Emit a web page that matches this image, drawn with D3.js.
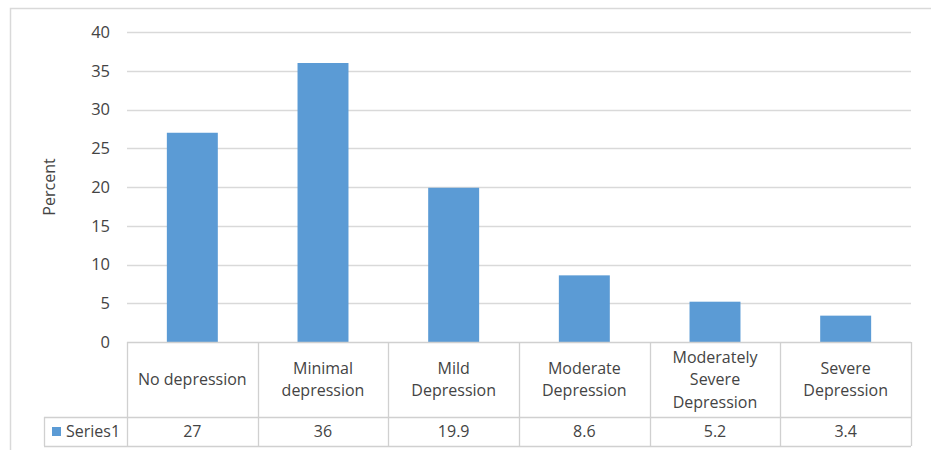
<!DOCTYPE html>
<html><head><meta charset="utf-8">
<script src="https://cdn.jsdelivr.net/npm/d3@7"></script>
<style>body{margin:0;background:#fff;} text{font-family:"Open Sans",sans-serif;fill:#444;}</style>
</head><body>
<svg id="c" width="931" height="450"></svg>
<script>
const categories = [["No depression"],["Minimal","depression"],["Mild","Depression"],["Moderate","Depression"],["Moderately","Severe","Depression"],["Severe","Depression"]];
const values = [27, 36, 19.9, 8.6, 5.2, 3.4];
const valueLabels = ["27","36","19.9","8.6","5.2","3.4"];
const yTicks = [0,5,10,15,20,25,30,35,40];
const seriesName = "Series1";
const yTitle = "Percent";

(function(){
const svg = d3.select("#c");
const pLeft = 127, pRight = 911, pTop = 32, base = 342, catBottom = 417, tableBottom = 446, legendLeft = 44;
const keys = categories.map((c,i)=>i);
const x = d3.scaleBand().domain(keys).range([pLeft, pRight]).padding(0);
const y = d3.scaleLinear().domain([0,40]).range([base, pTop]);
const gridColor = "#d9d9d9";

svg.append("rect").attr("x",10.5).attr("y",8.5).attr("width",940).attr("height",460)
  .attr("fill","none").attr("stroke","#d9d9d9").attr("stroke-width",1.5);

svg.append("g").selectAll("line").data(yTicks.filter(d=>d>0)).join("line")
  .attr("x1",pLeft).attr("x2",pRight).attr("y1",d=>Math.round(y(d))+0.5).attr("y2",d=>Math.round(y(d))+0.5)
  .attr("stroke",gridColor).attr("stroke-width",1.3);

svg.append("g").selectAll("text").data(yTicks).join("text")
  .attr("x",110).attr("y",d=>y(d)).attr("dy","0.35em").attr("text-anchor","end")
  .style("font-size","16.5px").text(d=>d);

svg.append("text").attr("transform",`translate(55,${(pTop+base)/2}) rotate(-90)`)
  .attr("text-anchor","middle").style("font-size","16px").text(yTitle);

const barFrac = 0.39;
svg.append("g").selectAll("rect").data(values).join("rect")
  .attr("x",(d,i)=>x(i)+x.bandwidth()*(1-barFrac)/2).attr("width",x.bandwidth()*barFrac)
  .attr("y",d=>y(d)).attr("height",d=>base-y(d)).attr("fill","#5B9BD5");

const tg = svg.append("g").attr("stroke","#d0d0d0").attr("stroke-width",1.3);
tg.append("line").attr("x1",pLeft).attr("x2",pRight).attr("y1",base+0.5).attr("y2",base+0.5);
tg.append("line").attr("x1",legendLeft).attr("x2",pRight).attr("y1",catBottom+0.5).attr("y2",catBottom+0.5);
tg.append("line").attr("x1",legendLeft).attr("x2",pRight).attr("y1",tableBottom+0.5).attr("y2",tableBottom+0.5);
tg.append("line").attr("x1",legendLeft+0.5).attr("x2",legendLeft+0.5).attr("y1",catBottom).attr("y2",tableBottom);
tg.selectAll("line.v").data(keys.concat([keys.length])).join("line").attr("class","v")
  .attr("x1",d=>Math.round(d<keys.length?x(d):pRight)+0.5).attr("x2",d=>Math.round(d<keys.length?x(d):pRight)+0.5)
  .attr("y1",base).attr("y2",tableBottom);

const cg = svg.append("g").selectAll("text").data(categories).join("text")
  .attr("text-anchor","middle").style("font-size","16px")
  .attr("x",(d,i)=>x(i)+x.bandwidth()/2)
  .attr("y",d=>(base+catBottom)/2 - (d.length-1)*22.5/2);
cg.selectAll("tspan").data(d=>d).join("tspan")
  .attr("x",function(){return this.parentNode.getAttribute("x");})
  .attr("dy",(d,j)=>j===0?"0.35em":"22.5px").text(d=>d);

svg.append("g").selectAll("text").data(valueLabels).join("text")
  .attr("text-anchor","middle").style("font-size","16px")
  .attr("x",(d,i)=>x(i)+x.bandwidth()/2).attr("y",(catBottom+tableBottom)/2).attr("dy","0.35em").text(d=>d);

svg.append("rect").attr("x",52).attr("y",427).attr("width",9).attr("height",9).attr("fill","#5B9BD5");
svg.append("text").attr("x",66).attr("y",(catBottom+tableBottom)/2).attr("dy","0.35em")
  .style("font-size","16px").text(seriesName);
})();
</script>
</body></html>
